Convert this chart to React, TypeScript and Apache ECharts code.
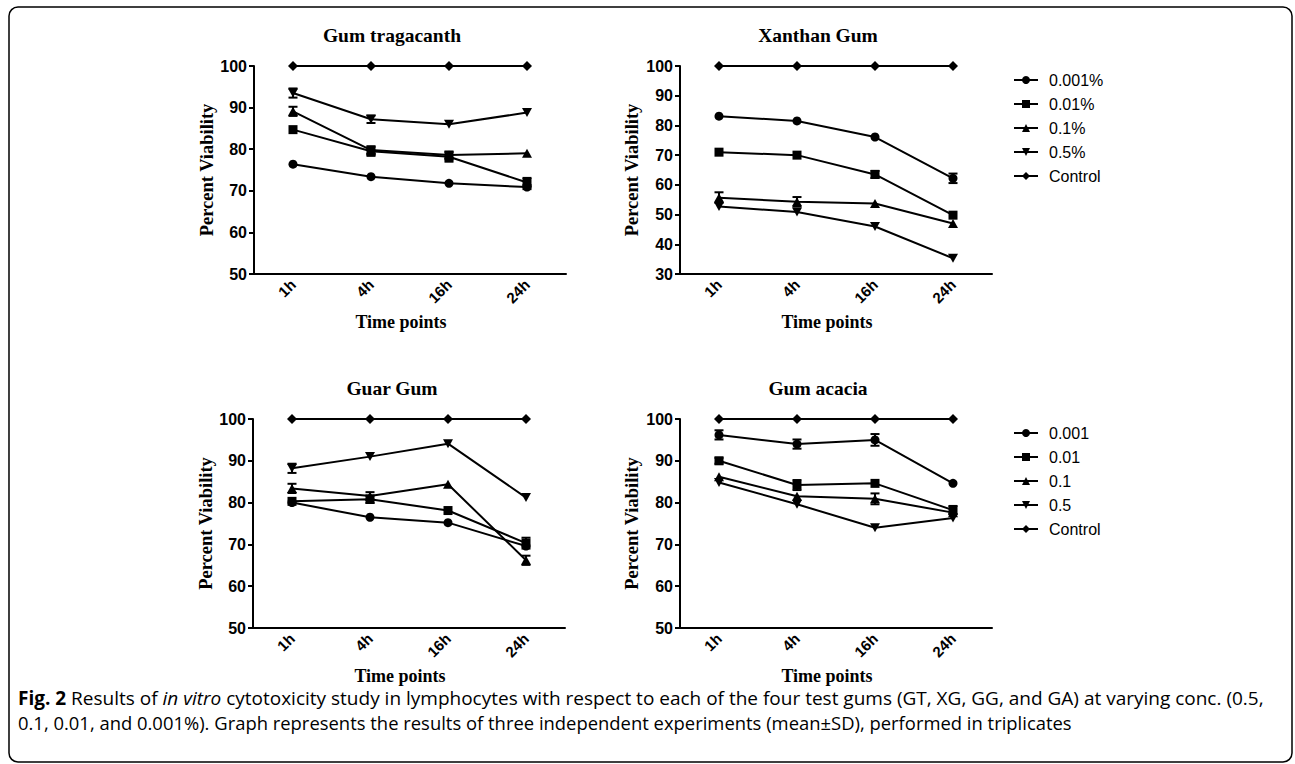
import React, { useEffect, useRef } from "react";
import * as echarts from "echarts";

const categories = ["1h", "4h", "16h", "24h"];
const topNames = ["0.001%", "0.01%", "0.1%", "0.5%", "Control"];
const bottomNames = ["0.001", "0.01", "0.1", "0.5", "Control"];
const control = [100, 100, 100, 100];

// Gum tragacanth
const gt001 = [76.4, 73.4, 71.8, 70.9];
const gt01 = [84.7, 79.5, 78.2, 72.0];
const gt1 = [89.1, 79.8, 78.6, 79.0];
const gt5 = [93.5, 87.2, 86.0, 88.8];
const gtSd001 = [0, 0, 0, 0.5];
const gtSd01 = [0, 1.1, 1.2, 1.1];
const gtSd1 = [1.1, 0.9, 0.8, 0];
const gtSd5 = [1.1, 0.9, 0, 0];

// Xanthan Gum
const xg001 = [83.1, 81.5, 76.1, 62.2];
const xg01 = [71.0, 70.0, 63.5, 49.8];
const xg1 = [55.7, 54.3, 53.7, 47.0];
const xg5 = [52.7, 50.9, 46.0, 35.3];
const xgSd001 = [0, 0, 0, 1.6];
const xgSd01 = [0, 0, 1.2, 0];
const xgSd1 = [1.8, 1.6, 0, 0];
const xgSd5 = [0, 0, 0, 0];

// Guar Gum
const gg001 = [80.0, 76.5, 75.2, 69.6];
const gg01 = [80.3, 80.8, 78.1, 70.3];
const gg1 = [83.4, 81.6, 84.4, 66.2];
const gg5 = [88.2, 91.0, 94.1, 81.2];
const ggSd001 = [0, 0, 0, 0];
const ggSd01 = [0, 0.9, 0, 1.3];
const ggSd1 = [1.1, 0.9, 0, 1.1];
const ggSd5 = [1.1, 0, 0, 0];

// Gum acacia
const ga001 = [96.2, 94.0, 95.0, 84.6];
const ga01 = [90.0, 84.2, 84.6, 78.2];
const ga1 = [86.2, 81.5, 80.9, 77.6];
const ga5 = [84.8, 79.6, 74.0, 76.3];
const gaSd001 = [1.1, 1.1, 1.4, 0];
const gaSd01 = [0.7, 1.2, 0, 1.0];
const gaSd1 = [0, 0, 1.3, 0];
const gaSd5 = [0, 0, 0, 0];

const panelTitles = ["Gum tragacanth", "Xanthan Gum", "Guar Gum", "Gum acacia"];
const yMins = [50, 30, 50, 50];

const SANS = "Arial, 'Liberation Sans', sans-serif";
const SERIF = "'Times New Roman', 'Liberation Serif', serif";
const CAP = "'Open Sans', sans-serif";
const INV_TRI = "path://M0,0L10,0L5,9Z";
const SYMBOLS = ["circle", "rect", "triangle", INV_TRI, "diamond"];
const SYM_SIZES: any[] = [9, 9, [10, 9], [10, 9], [10, 10]];

export default function App() {
  const ref = useRef<HTMLDivElement>(null);
  useEffect(() => {
    if (!ref.current) return;
    const chart = echarts.init(ref.current, null, { renderer: "svg" });

    const panels = [
      { vals: [gt001, gt01, gt1, gt5, control], sds: [gtSd001, gtSd01, gtSd1, gtSd5], names: topNames },
      { vals: [xg001, xg01, xg1, xg5, control], sds: [xgSd001, xgSd01, xgSd1, xgSd5], names: topNames },
      { vals: [gg001, gg01, gg1, gg5, control], sds: [ggSd001, ggSd01, ggSd1, ggSd5], names: bottomNames },
      { vals: [ga001, ga01, ga1, ga5, control], sds: [gaSd001, gaSd01, gaSd1, gaSd5], names: bottomNames },
    ];

    const grids = [
      { left: 254, top: 66, width: 312, height: 208 },
      { left: 680, top: 66, width: 312, height: 208 },
      { left: 253, top: 419, width: 312, height: 209 },
      { left: 680, top: 419, width: 312, height: 209 },
    ];
    const titlePos = [
      { x: 392, y: 25 },
      { x: 818, y: 25 },
      { x: 392, y: 378 },
      { x: 818, y: 378 },
    ];
    const yNameGaps = [37, 39, 38, 39];

    const xAxes = grids.map((_, i) => ({
      type: "category",
      gridIndex: i,
      data: categories,
      boundaryGap: true,
      name: "Time points",
      nameLocation: "middle",
      nameGap: 39,
      nameTextStyle: { fontFamily: SERIF, fontWeight: "bold", fontSize: 18, color: "#000", padding: [0, 18, 0, 0] },
      axisLine: { lineStyle: { color: "#000", width: 2 } },
      axisTick: { alignWithLabel: true, length: 5, lineStyle: { color: "#000", width: 2 } },
      axisLabel: { rotate: 45, margin: 8, interval: 0, fontFamily: SANS, fontWeight: "bold", fontSize: 15, color: "#000" },
      splitLine: { show: false },
    }));

    const yAxes = grids.map((_, i) => ({
      type: "value",
      gridIndex: i,
      min: yMins[i],
      max: 100,
      interval: 10,
      name: "Percent Viability",
      nameLocation: "middle",
      nameGap: yNameGaps[i],
      nameTextStyle: { fontFamily: SERIF, fontWeight: "bold", fontSize: 18.5, color: "#000" },
      axisLine: { show: true, lineStyle: { color: "#000", width: 2 } },
      axisTick: { show: true, length: 5, lineStyle: { color: "#000", width: 2 } },
      axisLabel: { margin: 7, fontFamily: SANS, fontWeight: "bold", fontSize: 16, color: "#000" },
      splitLine: { show: false },
    }));

    const series: any[] = [];
    panels.forEach((p, gi) => {
      p.vals.forEach((v, si) => {
        series.push({
          type: "line",
          name: p.names[si],
          xAxisIndex: gi,
          yAxisIndex: gi,
          data: v,
          symbol: SYMBOLS[si],
          symbolSize: SYM_SIZES[si],
          showAllSymbol: true,
          lineStyle: { color: "#000", width: 2 },
          itemStyle: { color: "#000" },
          z: 3,
        });
      });
      const errData: any[] = [];
      p.sds.forEach((sd, si) => {
        sd.forEach((e, ci) => {
          if (e > 0) {
            const m = p.vals[si][ci];
            errData.push([ci, m - e, m + e]);
          }
        });
      });
      series.push({
        type: "custom",
        name: "SD",
        xAxisIndex: gi,
        yAxisIndex: gi,
        data: errData,
        encode: { x: 0, y: [1, 2] },
        z: 4,
        renderItem: (params: any, api: any) => {
          const x = api.value(0);
          const lo = api.coord([x, api.value(1)]);
          const hi = api.coord([x, api.value(2)]);
          const w = 4.5;
          const st = { stroke: "#000", lineWidth: 2 };
          return {
            type: "group",
            children: [
              { type: "line", shape: { x1: lo[0], y1: lo[1], x2: hi[0], y2: hi[1] }, style: st },
              { type: "line", shape: { x1: lo[0] - w, y1: lo[1], x2: lo[0] + w, y2: lo[1] }, style: st },
              { type: "line", shape: { x1: hi[0] - w, y1: hi[1], x2: hi[0] + w, y2: hi[1] }, style: st },
            ],
          };
        },
      });
    });

    const legendCommon = {
      orient: "vertical",
      left: 1013,
      itemWidth: 24,
      itemHeight: 10,
      itemGap: 8,
      selectedMode: false,
      padding: 0,
      textStyle: { fontFamily: SANS, fontSize: 16, color: "#000", padding: [0, 0, 0, 6] },
    };

    const option: any = {
      animation: false,
      backgroundColor: "#fff",
      title: panelTitles.map((t, i) => ({
        text: t,
        left: titlePos[i].x,
        top: titlePos[i].y,
        textAlign: "center",
        padding: 0,
        textStyle: { fontFamily: SERIF, fontWeight: "bold", fontSize: 19.5, color: "#000" },
      })),
      legend: [
        { ...legendCommon, top: 72, data: topNames },
        { ...legendCommon, top: 425, data: bottomNames },
      ],
      grid: grids,
      xAxis: xAxes,
      yAxis: yAxes,
      series,
      graphic: [
        {
          type: "rect",
          shape: { x: 9, y: 7, width: 1283, height: 755, r: 9 },
          style: { fill: "none", stroke: "#000", lineWidth: 1.5 },
          silent: true,
        },
        {
          type: "text",
          x: 18,
          y: 698,
          style: {
            text: "{b|Fig. 2} Results of {i|in vitro} cytotoxicity study in lymphocytes with respect to each of the four test gums (GT, XG, GG, and GA) at varying conc. (0.5,",
            fontFamily: CAP,
            fontSize: 19,
            fill: "#000",
            verticalAlign: "middle",
            rich: {
              b: { fontFamily: CAP, fontSize: 19, fontWeight: "bold", fill: "#000" },
              i: { fontFamily: CAP, fontSize: 19, fontStyle: "italic", fill: "#000" },
            },
          },
        },
        {
          type: "text",
          x: 18,
          y: 722,
          scaleX: 0.97,
          style: {
            text: "0.1, 0.01, and 0.001%). Graph represents the results of three independent experiments (mean±SD), performed in triplicates",
            fontFamily: CAP,
            fontSize: 19,
            fill: "#000",
            verticalAlign: "middle",
          },
        },
      ],
    };

    chart.setOption(option);
    return () => chart.dispose();
  }, []);

  return (
    <div
      ref={ref}
      style={{ position: "fixed", left: 0, top: 0, width: 1295, height: 764, background: "#fff" }}
    />
  );
}
